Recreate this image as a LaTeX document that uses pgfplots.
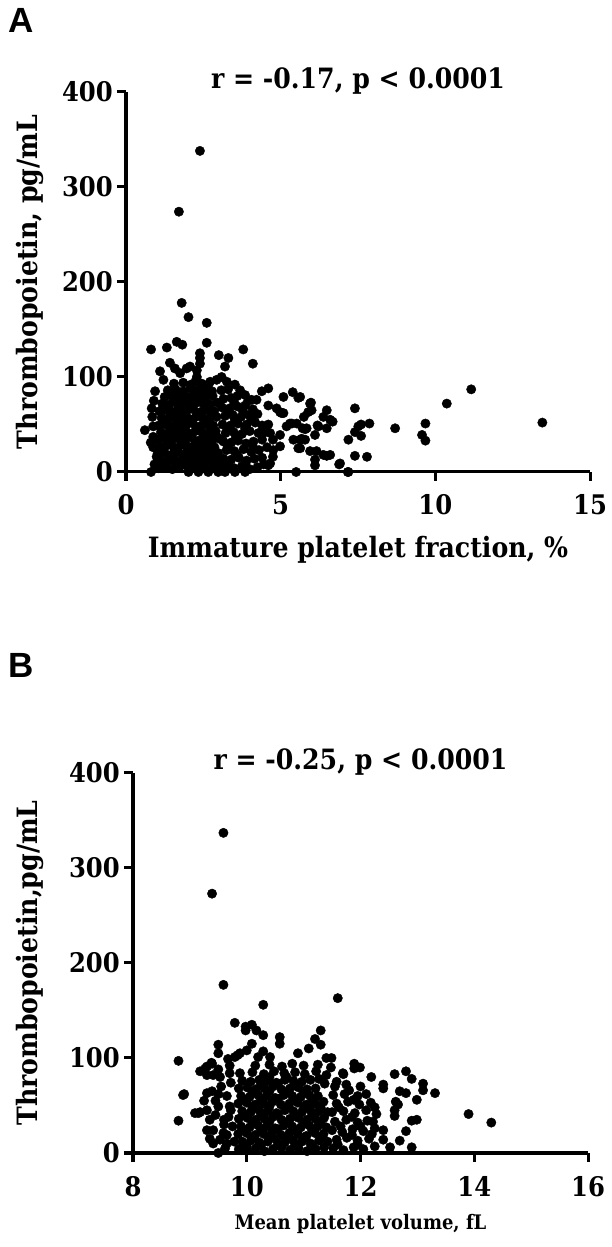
\documentclass[border=0pt]{standalone}
\usepackage{pgfplots}
\pgfplotsset{compat=1.18}
\usepackage{fontspec}
\setmainfont{DejaVu Serif Condensed}
\newfontfamily\panelfont{Liberation Sans}

\newcommand{\lblfont}{\fontsize{28bp}{30bp}\selectfont\bfseries}
\newcommand{\tickfont}{\fontsize{27bp}{28bp}\selectfont\bfseries}

\pgfplotsset{
  tpoplot/.style={
    scale only axis,
    height=380bp,
    ymin=0, ymax=400,
    ytick={0,100,200,300,400},
    axis x line*=bottom,
    axis y line*=left,
    axis line style={line width=3bp, black},
    tick style={line width=3bp, black},
    tick align=outside,
    major tick length=9bp,
    clip=false,
    /pgf/number format/assume math mode=true,
    tick label style={font=\tickfont},
    yticklabel style={anchor=east, inner sep=0pt, xshift=-4bp},
    xticklabel style={anchor=base, inner sep=0pt, yshift=-34bp},
    title style={at={(axis description cs:0.5,1)}, anchor=base, yshift=-2bp, font=\lblfont},
  },
  dots/.style={only marks, mark=*, mark size=4.7bp, black, mark options={draw=black, fill=black}},
}

\begin{document}
\begin{tikzpicture}
\path[use as bounding box] (0,0) rectangle (612bp,1247bp);

% ---------- panel A ----------
\node[anchor=base west, inner sep=0pt] at (8bp,1214bp) {\panelfont\fontsize{35bp}{36bp}\selectfont\bfseries A};

\begin{axis}[tpoplot,
  at={(126bp,775bp)}, anchor=south west,
  width=464bp,
  xmin=0, xmax=15,
  xtick={0,5,10,15},
  title={r = -0.17, p < 0.0001},
  xlabel={Immature platelet fraction, \%},
  xlabel style={at={(axis description cs:0.5,0)}, anchor=base, yshift=-86bp, font=\lblfont},
  ylabel={Thrombopoietin, pg/mL},
  every axis y label/.style={at={(axis description cs:0,0.5)}, xshift=-88bp, rotate=90, anchor=base, font=\lblfont},
]
\addplot[dots] coordinates {
% outliers and upper edge
(2.39,338) (1.71,274) (1.80,178) (2.02,163) (2.61,157) (2.61,136) (1.64,137) (1.82,134)
(0.81,129) (1.32,131) (2.39,125) (2.39,120) (2.39,114) (3.00,123) (3.31,120) (3.79,129)
(4.10,114) (3.20,111) (1.42,115) (1.58,109) (1.75,104) (1.96,109) (2.07,111) (1.10,106)
(1.21,97) (2.29,107) (2.29,100) (2.24,95) (3.09,100) (2.93,97) (2.72,95) (3.26,95)
(3.52,92) (3.69,86) (3.85,81) (4.06,76) (4.22,76) (4.39,85) (4.60,88) (4.60,70)
(0.94,85) (0.83,67) (0.61,44) (0.88,48) (0.88,37) (0.88,26) (0.99,16) (0.85,58)
(0.90,75) (0.92,8) (0.80,31)
(0.81,0) (2.02,0) (2.34,0) (2.66,0) (2.98,0) (3.20,0) (3.52,0) (3.85,0) (5.50,0) (7.17,0)
% dense core
(1.05,4) (1.28,6) (1.50,3) (1.72,5) (1.93,7) (2.15,4) (2.37,6) (2.58,3) (2.80,5) (3.02,7)
(1.12,12) (1.35,11) (1.57,13) (1.80,12) (2.02,14) (2.23,11) (2.45,13) (2.68,12) (2.90,14)
(1.02,19) (1.25,20) (1.46,18) (1.68,21) (1.90,19) (2.11,20) (2.33,18) (2.55,21) (2.77,19) (2.98,20)
(1.10,27) (1.33,28) (1.55,26) (1.77,28) (1.99,27) (2.20,26) (2.42,28) (2.64,27) (2.86,26)
(1.04,34) (1.26,35) (1.48,33) (1.70,35) (1.92,34) (2.14,36) (2.36,33) (2.58,35) (2.80,34) (3.02,35)
(1.13,42) (1.36,41) (1.58,43) (1.80,42) (2.01,41) (2.24,43) (2.46,42) (2.68,41) (2.90,43)
(1.06,49) (1.28,50) (1.50,48) (1.72,50) (1.94,49) (2.16,51) (2.38,48) (2.60,50) (2.82,49)
(1.15,57) (1.38,56) (1.60,58) (1.82,57) (2.04,56) (2.26,58) (2.48,57) (2.70,56) (2.93,58)
(1.08,64) (1.30,65) (1.52,63) (1.74,65) (1.96,64) (2.18,66) (2.40,63) (2.62,65) (2.85,64)
(1.17,72) (1.40,71) (1.62,73) (1.84,72) (2.06,71) (2.28,73) (2.50,72) (2.72,71) (2.95,73)
(1.25,79) (1.48,80) (1.70,78) (1.92,80) (2.14,79) (2.36,81) (2.58,78) (2.80,80)
(1.35,86) (1.60,87) (1.85,85) (2.08,88) (2.32,86) (2.55,87) (2.78,85)
(1.55,93) (1.85,94) (2.10,92) (2.45,93) (2.65,91)
(1.20,9) (1.62,8) (2.05,9) (2.50,8) (2.90,10)
(1.40,16) (1.85,17) (2.28,15) (2.70,16)
(1.15,23) (1.58,24) (2.00,23) (2.45,24) (2.88,22)
(1.38,31) (1.82,30) (2.25,31) (2.70,30)
(1.18,38) (1.60,38) (2.05,39) (2.50,37) (2.92,38)
(1.45,45) (1.88,46) (2.30,45) (2.75,46)
(1.20,53) (1.65,53) (2.10,54) (2.55,52)
(1.45,60) (1.88,61) (2.30,60) (2.78,61)
(1.25,68) (1.70,68) (2.12,69) (2.58,68)
(1.55,75) (2.00,76) (2.42,75)
(1.75,83) (2.20,83) (2.65,82)
% medium region
(3.25,5) (3.50,4) (3.75,6) (4.00,3) (4.25,5) (4.45,8)
(3.15,14) (3.40,13) (3.65,15) (3.90,12) (4.15,14) (4.40,15)
(3.25,23) (3.50,22) (3.80,24) (4.05,21) (4.30,23)
(3.15,32) (3.40,31) (3.62,33) (3.88,30) (4.12,32) (4.40,34)
(3.22,41) (3.48,42) (3.75,40) (4.00,43) (4.28,41) (4.50,42)
(3.12,50) (3.38,49) (3.62,51) (3.90,50) (4.18,52) (4.40,49)
(3.20,59) (3.45,60) (3.72,58) (3.98,60) (4.25,61)
(3.10,68) (3.35,67) (3.60,69) (3.85,70) (4.10,66)
(3.15,77) (3.40,78) (3.60,80) (3.95,75)
(3.08,86) (3.30,87)
(3.30,9) (3.60,18) (3.30,27) (3.55,37) (3.30,45) (3.52,55) (3.28,63) (3.50,73)
(3.85,9) (4.10,27) (3.85,46) (4.05,56) (3.78,64)
% right tail
(4.66,41) (4.75,34) (4.56,26) (4.75,16) (4.66,9) (5.09,79) (4.98,63) (5.09,62)
(5.39,84) (5.57,78) (5.30,51) (5.52,51) (5.41,34) (5.63,34) (5.57,25) (5.95,72)
(6.00,65) (5.75,58) (5.71,46) (5.84,46) (5.68,35) (5.95,22) (6.16,22) (6.38,18)
(6.60,18) (6.49,65) (6.38,58) (6.60,55) (6.22,48) (6.49,46) (6.11,39) (6.11,13)
(6.11,7) (5.89,63) (5.63,79) (5.98,73) (6.68,53) (6.19,49) (4.87,67) (5.03,62)
(4.60,50) (4.98,39) (4.98,27) (4.76,23) (4.60,7) (5.19,48) (5.36,51) (5.79,45)
(5.79,34) (5.63,25) (6.49,17) (6.89,8) (7.19,0) (7.40,67) (7.19,34) (7.40,42)
(7.60,38) (7.60,50) (7.87,51) (7.40,17) (7.79,16) (7.51,48) (6.92,9) (8.70,46)
(9.68,51) (9.57,39) (9.68,33) (10.37,72) (11.16,87) (13.46,52)
};
\end{axis}

% ---------- panel B ----------
\node[anchor=base west, inner sep=0pt] at (8bp,569bp) {\panelfont\fontsize{35bp}{36bp}\selectfont\bfseries B};

\begin{axis}[tpoplot,
  at={(133bp,94bp)}, anchor=south west,
  width=455bp,
  xmin=8, xmax=16,
  xtick={8,10,12,14,16},
  title={r = -0.25, p < 0.0001},
  xlabel={Mean platelet volume, fL},
  xlabel style={at={(axis description cs:0.5,0)}, anchor=base, yshift=-76bp, font=\fontsize{20bp}{22bp}\selectfont\bfseries},
  ylabel={Thrombopoietin,pg/mL},
  every axis y label/.style={at={(axis description cs:0,0.5)}, xshift=-95bp, rotate=90, anchor=base, font=\lblfont},
]
\addplot[dots] coordinates {
% outliers and upper edge
(9.59,337) (9.39,273) (9.59,177) (10.29,156) (11.60,163) (8.80,97) (8.90,62) (8.80,34)
(9.79,137) (9.98,133) (10.09,135) (10.17,129) (9.98,129) (10.29,124) (10.09,115) (9.50,114)
(9.50,105) (10.58,122) (10.58,115) (11.30,129) (11.20,120) (11.30,114) (11.09,110) (10.90,105)
(9.18,86) (9.30,91) (9.38,95) (9.67,99) (9.84,103) (10.00,108) (9.15,42) (9.30,45)
(9.39,65) (9.30,63) (9.30,24) (9.35,15) (9.65,19) (9.65,10) (9.50,0) (10.00,7)
(9.79,101) (9.88,105) (10.20,101) (10.29,107) (10.41,101) (9.39,94) (9.27,89) (9.30,82)
(9.41,82) (9.53,80) (9.70,84) (8.88,61) (9.09,42) (9.18,43) (9.35,35) (9.41,24)
(9.41,10) (9.53,14) (9.59,21) (9.50,49) (9.70,49) (9.45,55) (9.55,70) (9.65,60)
(9.72,45) (9.60,35) (9.75,28) (9.45,40) (9.25,55) (9.50,88) (9.70,92) (9.62,5)
(9.72,74) (9.60,30) (9.78,12) (9.50,62) (9.68,38)
(11.40,100) (11.49,100) (11.89,94) (11.99,90) (11.89,89) (11.70,83) (11.58,75) (11.40,82)
(11.37,73) (12.19,80) (12.00,70) (11.80,66) (12.40,72) (12.40,68) (12.60,83) (12.80,86)
(12.90,78) (13.10,73) (13.10,66) (13.31,63) (12.99,56) (12.69,65) (12.80,63) (12.62,54)
(12.66,51) (12.60,45) (12.60,39) (12.90,34) (12.99,35) (12.80,23) (12.69,13) (12.90,6)
(12.52,6) (12.40,14) (12.40,24) (13.90,41) (14.30,32) (11.69,84)
% dense core
(9.86,4) (10.01,3) (10.16,5) (10.31,2) (10.46,4) (10.61,6) (10.76,3) (10.91,5) (11.06,2) (11.21,4) (11.36,6)
(9.92,12) (10.07,13) (10.22,11) (10.37,12) (10.52,14) (10.67,11) (10.82,13) (10.97,12) (11.12,10) (11.27,13) (11.42,12)
(9.85,20) (10.00,21) (10.15,19) (10.30,20) (10.45,22) (10.60,19) (10.75,21) (10.90,20) (11.05,18) (11.20,21) (11.35,20)
(9.90,28) (10.05,27) (10.20,29) (10.35,28) (10.50,26) (10.65,29) (10.80,28) (10.95,27) (11.10,29) (11.25,28) (11.40,27)
(9.86,36) (10.01,37) (10.16,35) (10.31,36) (10.46,38) (10.61,35) (10.76,36) (10.91,37) (11.06,35) (11.21,36) (11.36,37)
(9.92,44) (10.07,43) (10.22,45) (10.37,44) (10.52,42) (10.67,45) (10.82,44) (10.97,43) (11.12,45) (11.27,44) (11.42,43)
(9.85,52) (10.00,53) (10.15,51) (10.30,52) (10.45,54) (10.60,51) (10.75,52) (10.90,53) (11.05,51) (11.20,52) (11.35,54)
(9.90,60) (10.05,59) (10.20,61) (10.35,60) (10.50,58) (10.65,61) (10.80,60) (10.95,59) (11.10,61) (11.25,60)
(9.86,68) (10.01,69) (10.16,67) (10.31,68) (10.46,70) (10.61,67) (10.76,68) (10.91,69) (11.06,67) (11.21,68)
(9.92,76) (10.07,75) (10.22,77) (10.37,76) (10.52,74) (10.67,77) (10.82,76) (10.97,75) (11.12,77) (11.27,78)
(9.88,84) (10.10,85) (10.30,83) (10.48,86) (10.66,84) (10.85,85) (11.02,83) (11.22,86)
(10.15,92) (10.40,93) (10.62,91) (10.80,94) (11.00,92) (11.25,93)
(9.95,8) (10.25,8) (10.55,9) (10.85,8) (11.15,8)
(10.10,16) (10.40,17) (10.70,16) (11.00,15) (11.30,16)
(9.95,24) (10.25,24) (10.55,25) (10.85,23) (11.15,24)
(10.10,32) (10.40,33) (10.70,32) (11.00,31) (11.30,32)
(9.95,40) (10.25,40) (10.55,41) (10.85,39) (11.15,40)
(10.10,48) (10.40,49) (10.70,48) (11.00,47) (11.30,48)
(9.95,56) (10.25,56) (10.55,57) (10.85,55) (11.15,56)
(10.10,64) (10.40,65) (10.70,64) (11.00,63)
(10.25,72) (10.55,73) (10.85,71)
(10.40,80) (10.70,80)
% medium region
(11.52,5) (11.70,3) (11.88,6) (12.05,4) (12.25,7)
(11.58,14) (11.76,16) (11.95,13) (12.15,15)
(11.50,24) (11.68,22) (11.86,25) (12.05,23) (12.25,26)
(11.55,33) (11.75,35) (11.95,32) (12.12,34)
(11.50,43) (11.70,44) (11.90,42) (12.10,45) (12.28,41)
(11.58,52) (11.78,54) (11.98,51) (12.18,53)
(11.52,61) (11.72,62) (11.95,60) (11.55,70)
(11.60,9) (11.95,9) (11.65,28) (12.00,28) (11.62,48) (11.88,56)
(11.85,19) (12.20,20) (11.85,38) (12.22,33) (12.10,62) (11.75,72) (12.25,48) (11.48,90)
};
\end{axis}
\end{tikzpicture}
\end{document}
